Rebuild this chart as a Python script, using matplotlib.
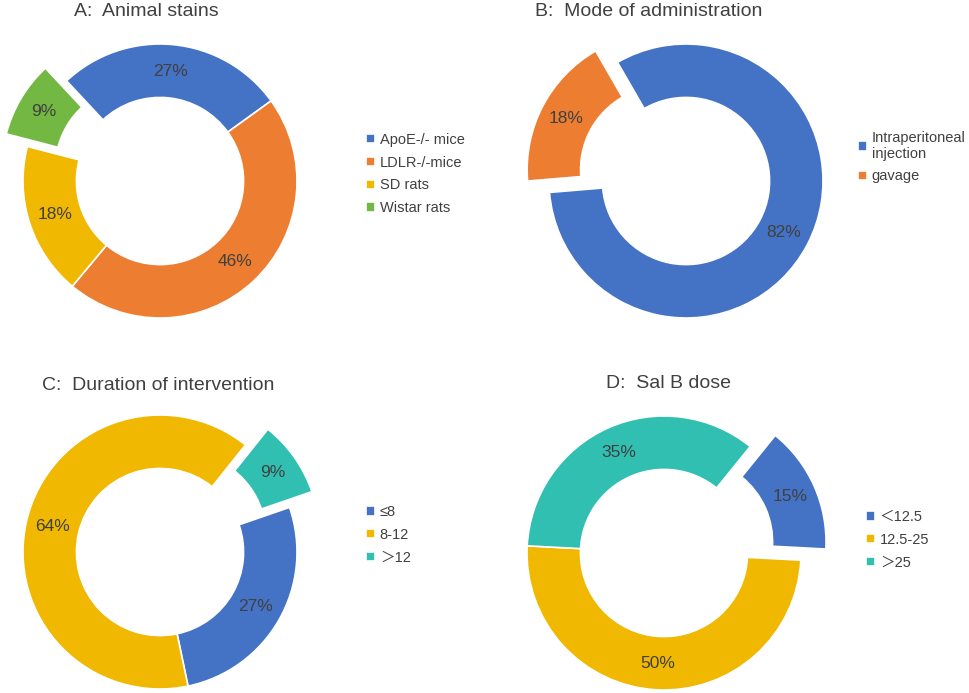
import matplotlib
matplotlib.use("Agg")
import matplotlib.pyplot as plt

plt.rcParams['font.family'] = ['Liberation Sans', 'Noto Sans CJK SC', 'DejaVu Sans']

# colours used in the original (Excel-like palette)
BLUE = '#4472C4'
ORANGE = '#ED7D31'
YELLOW = '#F0B800'
GREEN = '#72B843'
TEAL = '#30BFB1'
TXT = '#404040'

# data
a_labels = ['ApoE-/- mice', 'LDLR-/-mice', 'SD rats', 'Wistar rats']
a_values = [27, 46, 18, 9]
b_labels = ['Intraperitoneal\ninjection', 'gavage']
b_values = [82, 18]
c_labels = ['≤8', '8-12', '＞12']
c_values = [27, 64, 9]
d_labels = ['＜12.5', '12.5-25', '＞25']
d_values = [15, 50, 35]

W, H = 969, 693
R = 137  # ring radius in px

fig = plt.figure(figsize=(W / 100, H / 100), dpi=100)


def donut(cx, cy, values, labels, colors, start, explode, title, tx, ty, lx, ly):
    half = 210
    ax = fig.add_axes([(cx - half) / W, (H - cy - half) / H, 2 * half / W, 2 * half / H])
    wedges, _, autotexts = ax.pie(values, colors=colors, startangle=start, counterclock=False,
                                  explode=explode, autopct='%.0f%%', pctdistance=0.805,
                                  radius=1.0,
                                  wedgeprops=dict(width=0.39, edgecolor='white', linewidth=1.2),
                                  textprops=dict(color=TXT, fontsize=12.5))
    ax.set_xlim(-half / R, half / R)
    ax.set_ylim(-half / R, half / R)
    ax.axis('off')
    fig.text(tx / W, 1 - ty / H, title, ha='center', va='center', fontsize=14, color=TXT)
    fig.legend(wedges, labels, loc='center left', bbox_to_anchor=(lx / W, 1 - ly / H),
               frameon=False, fontsize=10.5, labelcolor=TXT, handlelength=0.6,
               handleheight=0.6, handletextpad=0.35, labelspacing=0.6,
               borderpad=0, borderaxespad=0)


donut(160, 181, a_values, a_labels, [BLUE, ORANGE, YELLOW, GREEN], 133,
      [0, 0, 0, 0.18], 'A:  Animal stains', 146, 11, 366, 174)
donut(686, 181, b_values, b_labels, [BLUE, ORANGE], 120,
      [0, 0.18], 'B:  Mode of administration', 649, 12, 858, 157)
donut(160, 552, c_values, c_labels, [BLUE, YELLOW, TEAL], 19,
      [0, 0, 0.2], 'C:  Duration of intervention', 158, 385, 366, 535)
donut(664, 553, d_values, d_labels, [BLUE, YELLOW, TEAL], 51,
      [0.2, 0, 0], 'D:  Sal B dose', 668, 383, 866, 540)

fig.savefig('out.png', dpi=100)
